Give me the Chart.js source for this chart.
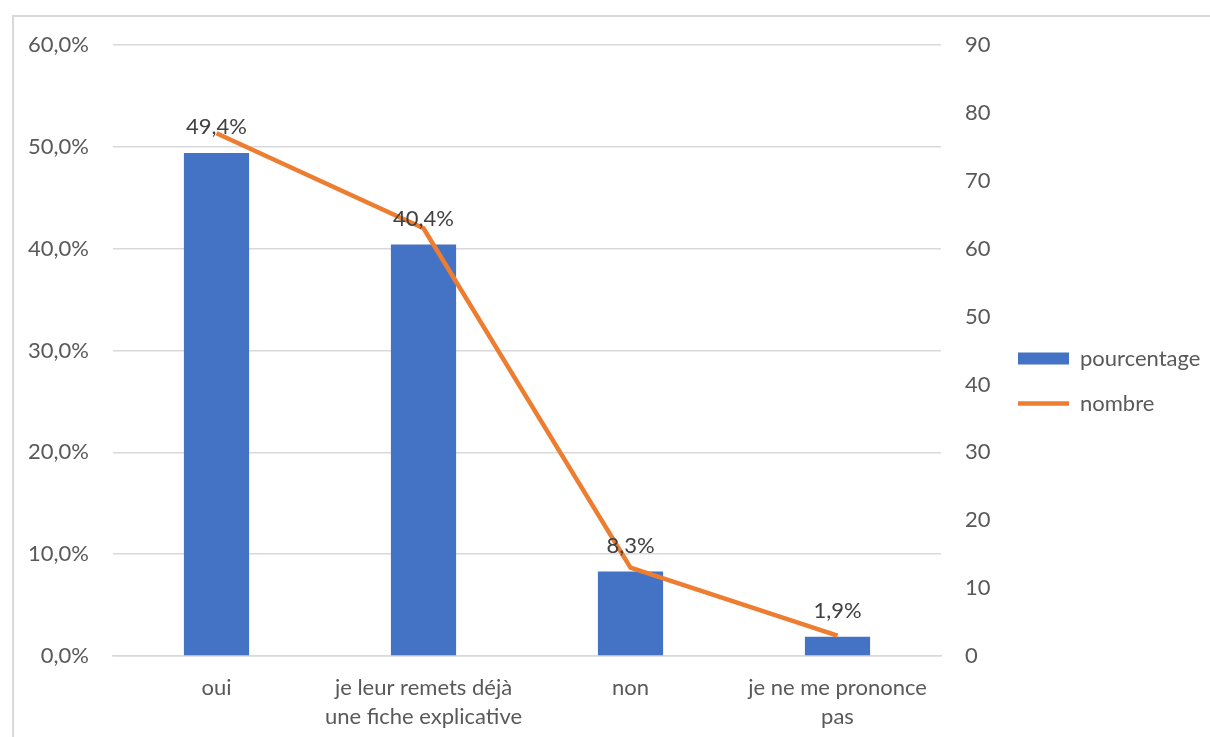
<!DOCTYPE html>
<html><head><meta charset="utf-8">
<script src="https://cdn.jsdelivr.net/npm/chart.js@4/dist/chart.umd.min.js"></script>
<style>
html,body{margin:0;padding:0;background:#fff;overflow:hidden;width:1210px;height:737px;}
#frame{position:absolute;left:12px;top:15px;width:1300px;height:800px;border:2px solid #d9d9d9;box-sizing:border-box;}
#wrap{position:absolute;left:0;top:0;width:1210px;height:737px;}
</style></head>
<body>
<div id="frame"></div>
<div id="wrap"><canvas id="c"></canvas></div>
<script>
const categories = ['oui', ['je leur remets déjà','une fiche explicative'], 'non', ['je ne me prononce','pas']];
const pourcentage = [49.4, 40.4, 8.3, 1.9];
const nombre = [77, 63, 13, 3];
const leftTicks = [0, 10, 20, 30, 40, 50, 60];
const rightTicks = [0, 10, 20, 30, 40, 50, 60, 70, 80, 90];

const FONT = 'Lato, "Open Sans", sans-serif';
const SIZE = 22;
const fmt = v => v.toFixed(1).replace('.', ',') + '%';

const labelPlugin = {
  id: 'barLabels',
  afterLayout(chart) {
    // widen the legend clip box slightly so the last glyph is not cut
    if (chart.legend) { chart.legend.right += 14; chart.legend.width += 14; }
  },
  afterDatasetsDraw(chart) {
    const ctx = chart.ctx;
    const meta = chart.getDatasetMeta(1);
    ctx.save();
    ctx.font = SIZE + 'px ' + FONT;
    ctx.fillStyle = '#404040';
    ctx.textAlign = 'center';
    ctx.textBaseline = 'middle';
    meta.data.forEach((bar, i) => {
      ctx.fillText(fmt(pourcentage[i]), bar.x, bar.y - 26);
    });
    ctx.restore();
  }
};

new Chart(document.getElementById('c'), {
  data: {
    labels: categories,
    datasets: [
      { type: 'line', label: 'nombre', data: nombre, yAxisID: 'y2', borderColor: '#ED7D31', backgroundColor: '#ED7D31',
        borderWidth: 4.5, pointRadius: 0, tension: 0, order: 0, pointStyle: 'line' },
      { type: 'bar', label: 'pourcentage', data: pourcentage, yAxisID: 'y', backgroundColor: '#4472C4', borderWidth: 0,
        categoryPercentage: 1, barPercentage: 0.315, order: 1, pointStyle: 'rect' }
    ]
  },
  options: {
    responsive: true, maintainAspectRatio: false, animation: false,
    layout: { padding: { left: 0, top: 25, right: 16, bottom: 0 } },
    plugins: {
      tooltip: { enabled: false },
      title: { display: true, text: ' ', font: { size: 10, lineHeight: 1 }, padding: { top: 5, bottom: 5 } },
      legend: {
        position: 'right',
        labels: {
          usePointStyle: true, pointStyleWidth: 51, boxHeight: 12, padding: 23,
          color: '#595959', font: { family: FONT, size: SIZE },
          sort: (a, b) => b.datasetIndex - a.datasetIndex
        }
      }
    },
    scales: {
      x: {
        grid: { display: false, drawTicks: false },
        border: { color: '#d9d9d9', width: 1.5 },
        ticks: { color: '#595959', font: { family: FONT, size: SIZE, lineHeight: 1.32 }, padding: 17, maxRotation: 0, autoSkip: false },
        afterFit(s) { s.height = 81; }
      },
      y: {
        position: 'left', min: 0, max: 60,
        afterBuildTicks(s) { s.ticks = leftTicks.map(v => ({ value: v })); },
        grid: { color: '#d9d9d9', lineWidth: 1.5, drawTicks: false },
        border: { display: false },
        ticks: { color: '#595959', font: { family: FONT, size: SIZE }, padding: 24, callback: v => fmt(v) },
        afterFit(s) { s.width = 113; }
      },
      y2: {
        position: 'right', min: 0, max: 90,
        afterBuildTicks(s) { s.ticks = rightTicks.map(v => ({ value: v })); },
        grid: { display: false, drawTicks: false },
        border: { display: false },
        ticks: { color: '#595959', font: { family: FONT, size: SIZE }, padding: 24 },
        afterFit(s) { s.width = 54; }
      }
    }
  },
  plugins: [labelPlugin]
});
</script>
</body></html>
